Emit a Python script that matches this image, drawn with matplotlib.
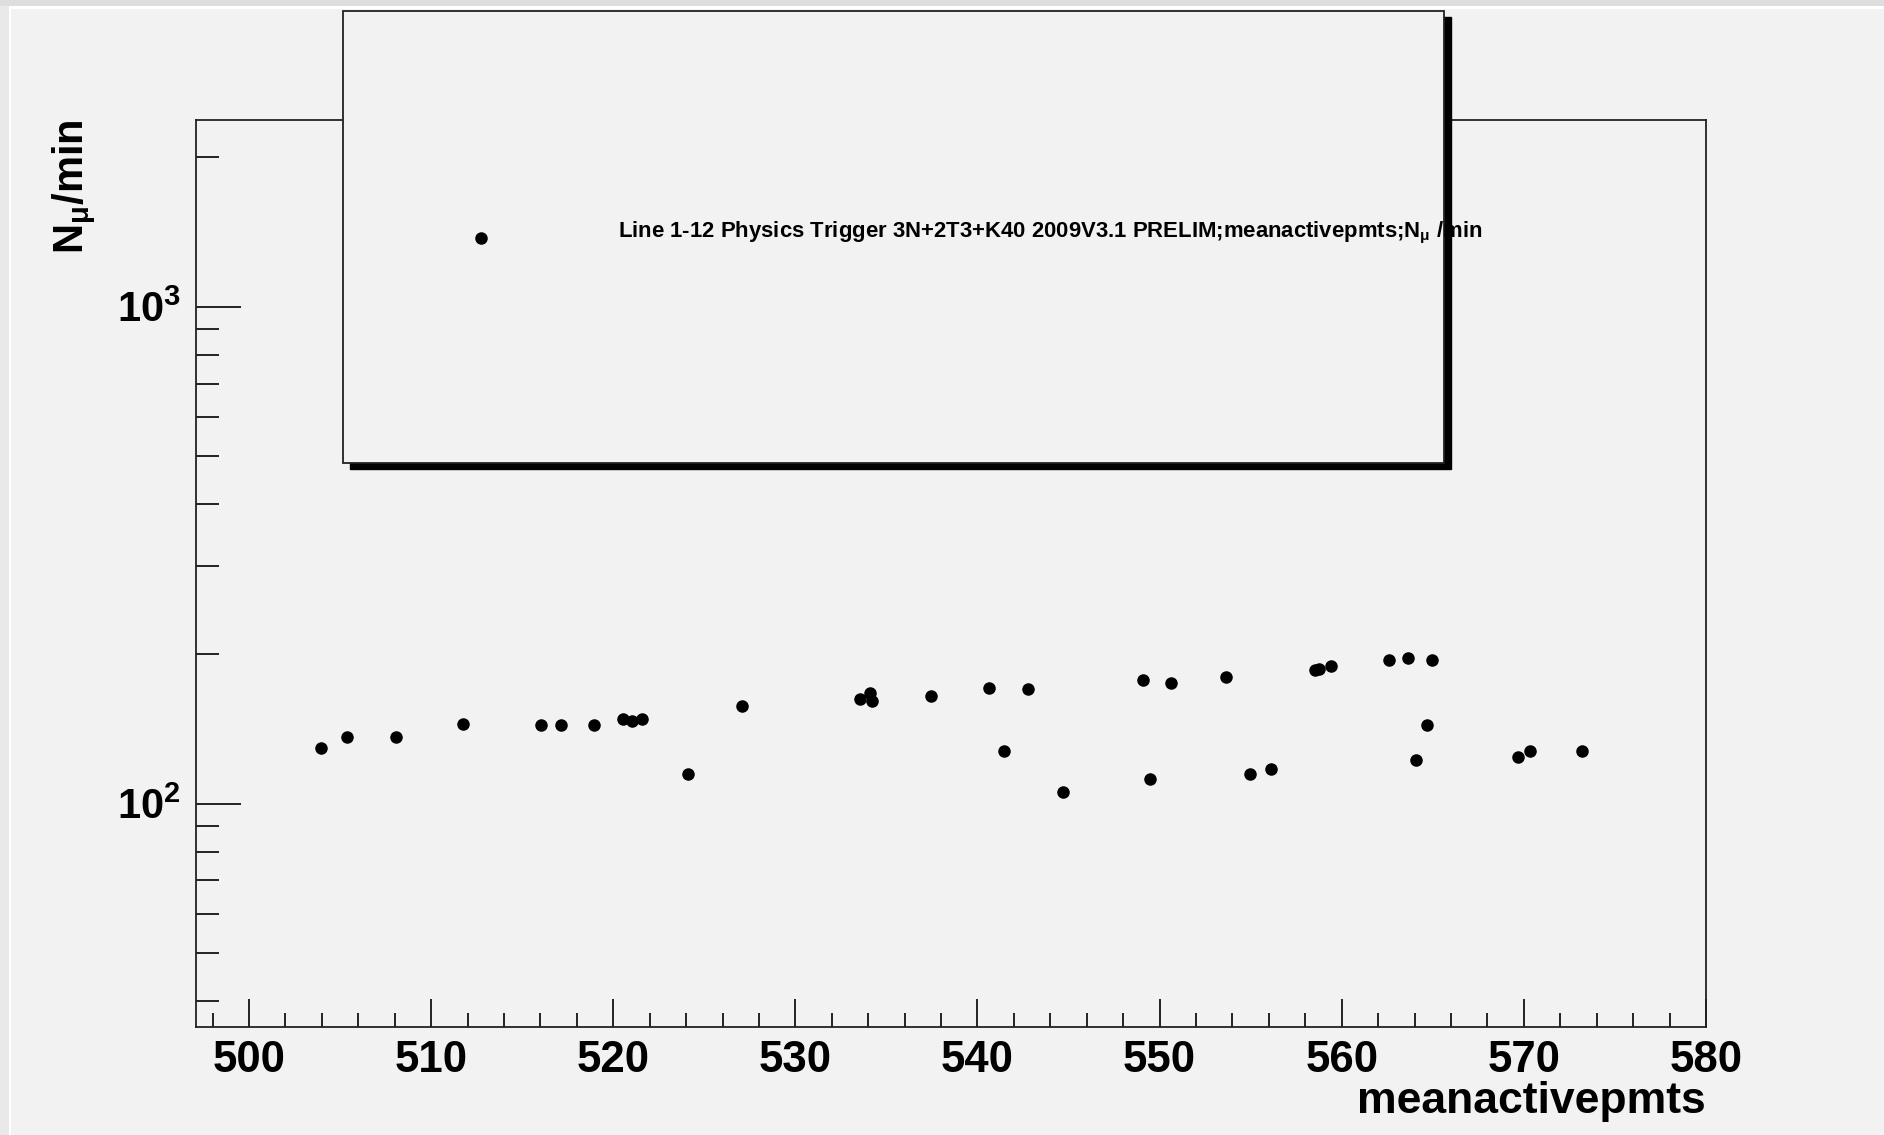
import numpy as np
import matplotlib.pyplot as plt
from matplotlib.patches import Rectangle
from matplotlib.ticker import LogLocator, NullFormatter, FixedLocator

# mean number of active PMTs per run and muon rate
meanactivepmts = [503.94, 505.36, 508.09, 511.77, 516.02, 517.15, 518.93, 520.52,
                  521.04, 521.60, 524.12, 527.05, 533.55, 534.11, 534.22, 537.43,
                  540.61, 541.47, 542.79, 544.69, 549.10, 549.47, 550.61, 553.63,
                  554.96, 556.10, 558.53, 558.75, 559.39, 562.59, 563.64, 564.09,
                  564.66, 564.95, 569.66, 570.33, 573.17]
nmu_per_min = [129.3, 136.2, 136.2, 144.7, 143.6, 143.6, 143.6, 148.1,
               146.9, 148.1, 114.6, 157.3, 162.2, 167.2, 160.7, 164.7,
               170.7, 127.3, 169.6, 105.4, 177.4, 112.0, 174.7, 180.1,
               114.6, 117.1, 185.4, 186.2, 188.7, 194.3, 195.8, 122.6,
               143.6, 194.3, 124.3, 127.3, 127.3]

title = "Line 1-12 Physics Trigger 3N+2T3+K40 2009V3.1 PRELIM;meanactivepmts;N$_{\\mu}$ /min"
xticks = [500, 510, 520, 530, 540, 550, 560, 570, 580]

W, H = 1884, 1135
PT = 72 / 100  # pixels -> points at dpi 100
plt.rcParams['font.family'] = ['Liberation Sans', 'DejaVu Sans']
plt.rcParams['mathtext.fontset'] = 'custom'
plt.rcParams['mathtext.rm'] = 'Liberation Sans:bold'
plt.rcParams['mathtext.it'] = 'Liberation Sans:bold'
plt.rcParams['mathtext.bf'] = 'Liberation Sans:bold'

bg = '#f2f2f2'
fig = plt.figure(figsize=(W / 100, H / 100), dpi=100, facecolor=bg)

# canvas edge bevel
fig.patches.append(Rectangle((0, 1 - 6 / H), 1, 6 / H, transform=fig.transFigure,
                             facecolor='#dedede', edgecolor='none', zorder=0))
fig.patches.append(Rectangle((0, 1 - 9 / H), 1, 3 / H, transform=fig.transFigure,
                             facecolor='white', edgecolor='none', zorder=0))
fig.patches.append(Rectangle((0, 0), 9 / W, 1 - 6 / H, transform=fig.transFigure,
                             facecolor='#e9e9e9', edgecolor='none', zorder=0))
fig.patches.append(Rectangle((9 / W, 0), 1.5 / W, 1 - 9 / H, transform=fig.transFigure,
                             facecolor='white', edgecolor='none', zorder=0))

ax = fig.add_axes([196 / W, 108 / H, 1510 / W, 907 / H])
ax.set_facecolor(bg)
ax.plot(meanactivepmts, nmu_per_min, 'o', color='black', markersize=8, zorder=3)

ax.set_yscale('log')
ax.set_xlim(497.09, 580)
ax.set_ylim(35.5, 2374)

for s in ax.spines.values():
    s.set_linewidth(1.3)
    s.set_color('#222222')

ax.xaxis.set_major_locator(FixedLocator(xticks))
ax.xaxis.set_minor_locator(FixedLocator(np.arange(498, 580, 2)))
ax.tick_params(axis='x', which='major', direction='in', length=28 * PT, width=1.2,
               labelsize=31.5, pad=9, top=False)
ax.tick_params(axis='x', which='minor', direction='in', length=14 * PT, width=1.2, top=False)
for lab in ax.get_xticklabels():
    lab.set_fontweight('bold')

ax.yaxis.set_major_locator(LogLocator(base=10, numticks=10))
ax.yaxis.set_minor_locator(LogLocator(base=10, subs=np.arange(2, 10), numticks=10))
ax.yaxis.set_minor_formatter(NullFormatter())
ax.tick_params(axis='y', which='major', direction='in', length=45 * PT, width=1.2,
               labelsize=30, pad=11, right=False)
ax.tick_params(axis='y', which='minor', direction='in', length=23 * PT, width=1.2, right=False)
ax.yaxis.set_major_formatter(plt.FuncFormatter(lambda v, p: '$10^{%d}$' % round(np.log10(v))))

ax.set_xlabel('meanactivepmts', fontsize=32, fontweight='bold', ha='right')
ax.xaxis.set_label_coords(1.0, -0.06)
ax.set_ylabel('N$_{\\mu}$/min', fontsize=30, fontweight='bold', ha='right')
ax.yaxis.set_label_coords(-0.065, 1.0)

# legend box with shadow
lx0, lx1, ly0, ly1 = 343, 1444, 11, 463
fig.patches.append(Rectangle(((lx0 + 7) / W, 1 - (ly1 + 6) / H), (lx1 - lx0) / W,
                             (ly1 - ly0) / H, transform=fig.transFigure,
                             facecolor='black', edgecolor='black', zorder=4))
fig.patches.append(Rectangle((lx0 / W, 1 - ly1 / H), (lx1 - lx0) / W, (ly1 - ly0) / H,
                             transform=fig.transFigure, facecolor=bg,
                             edgecolor='#222222', linewidth=1.3, zorder=5))
fig.lines.append(plt.Line2D([481 / W], [1 - 238 / H], marker='o', color='black',
                            markersize=8, transform=fig.transFigure, zorder=6))
fig.text(618 / W, 1 - 233 / H, title, fontsize=15.9, fontweight='bold',
         ha='left', va='center', zorder=7)

fig.savefig('out.png', dpi=100, facecolor=bg)
